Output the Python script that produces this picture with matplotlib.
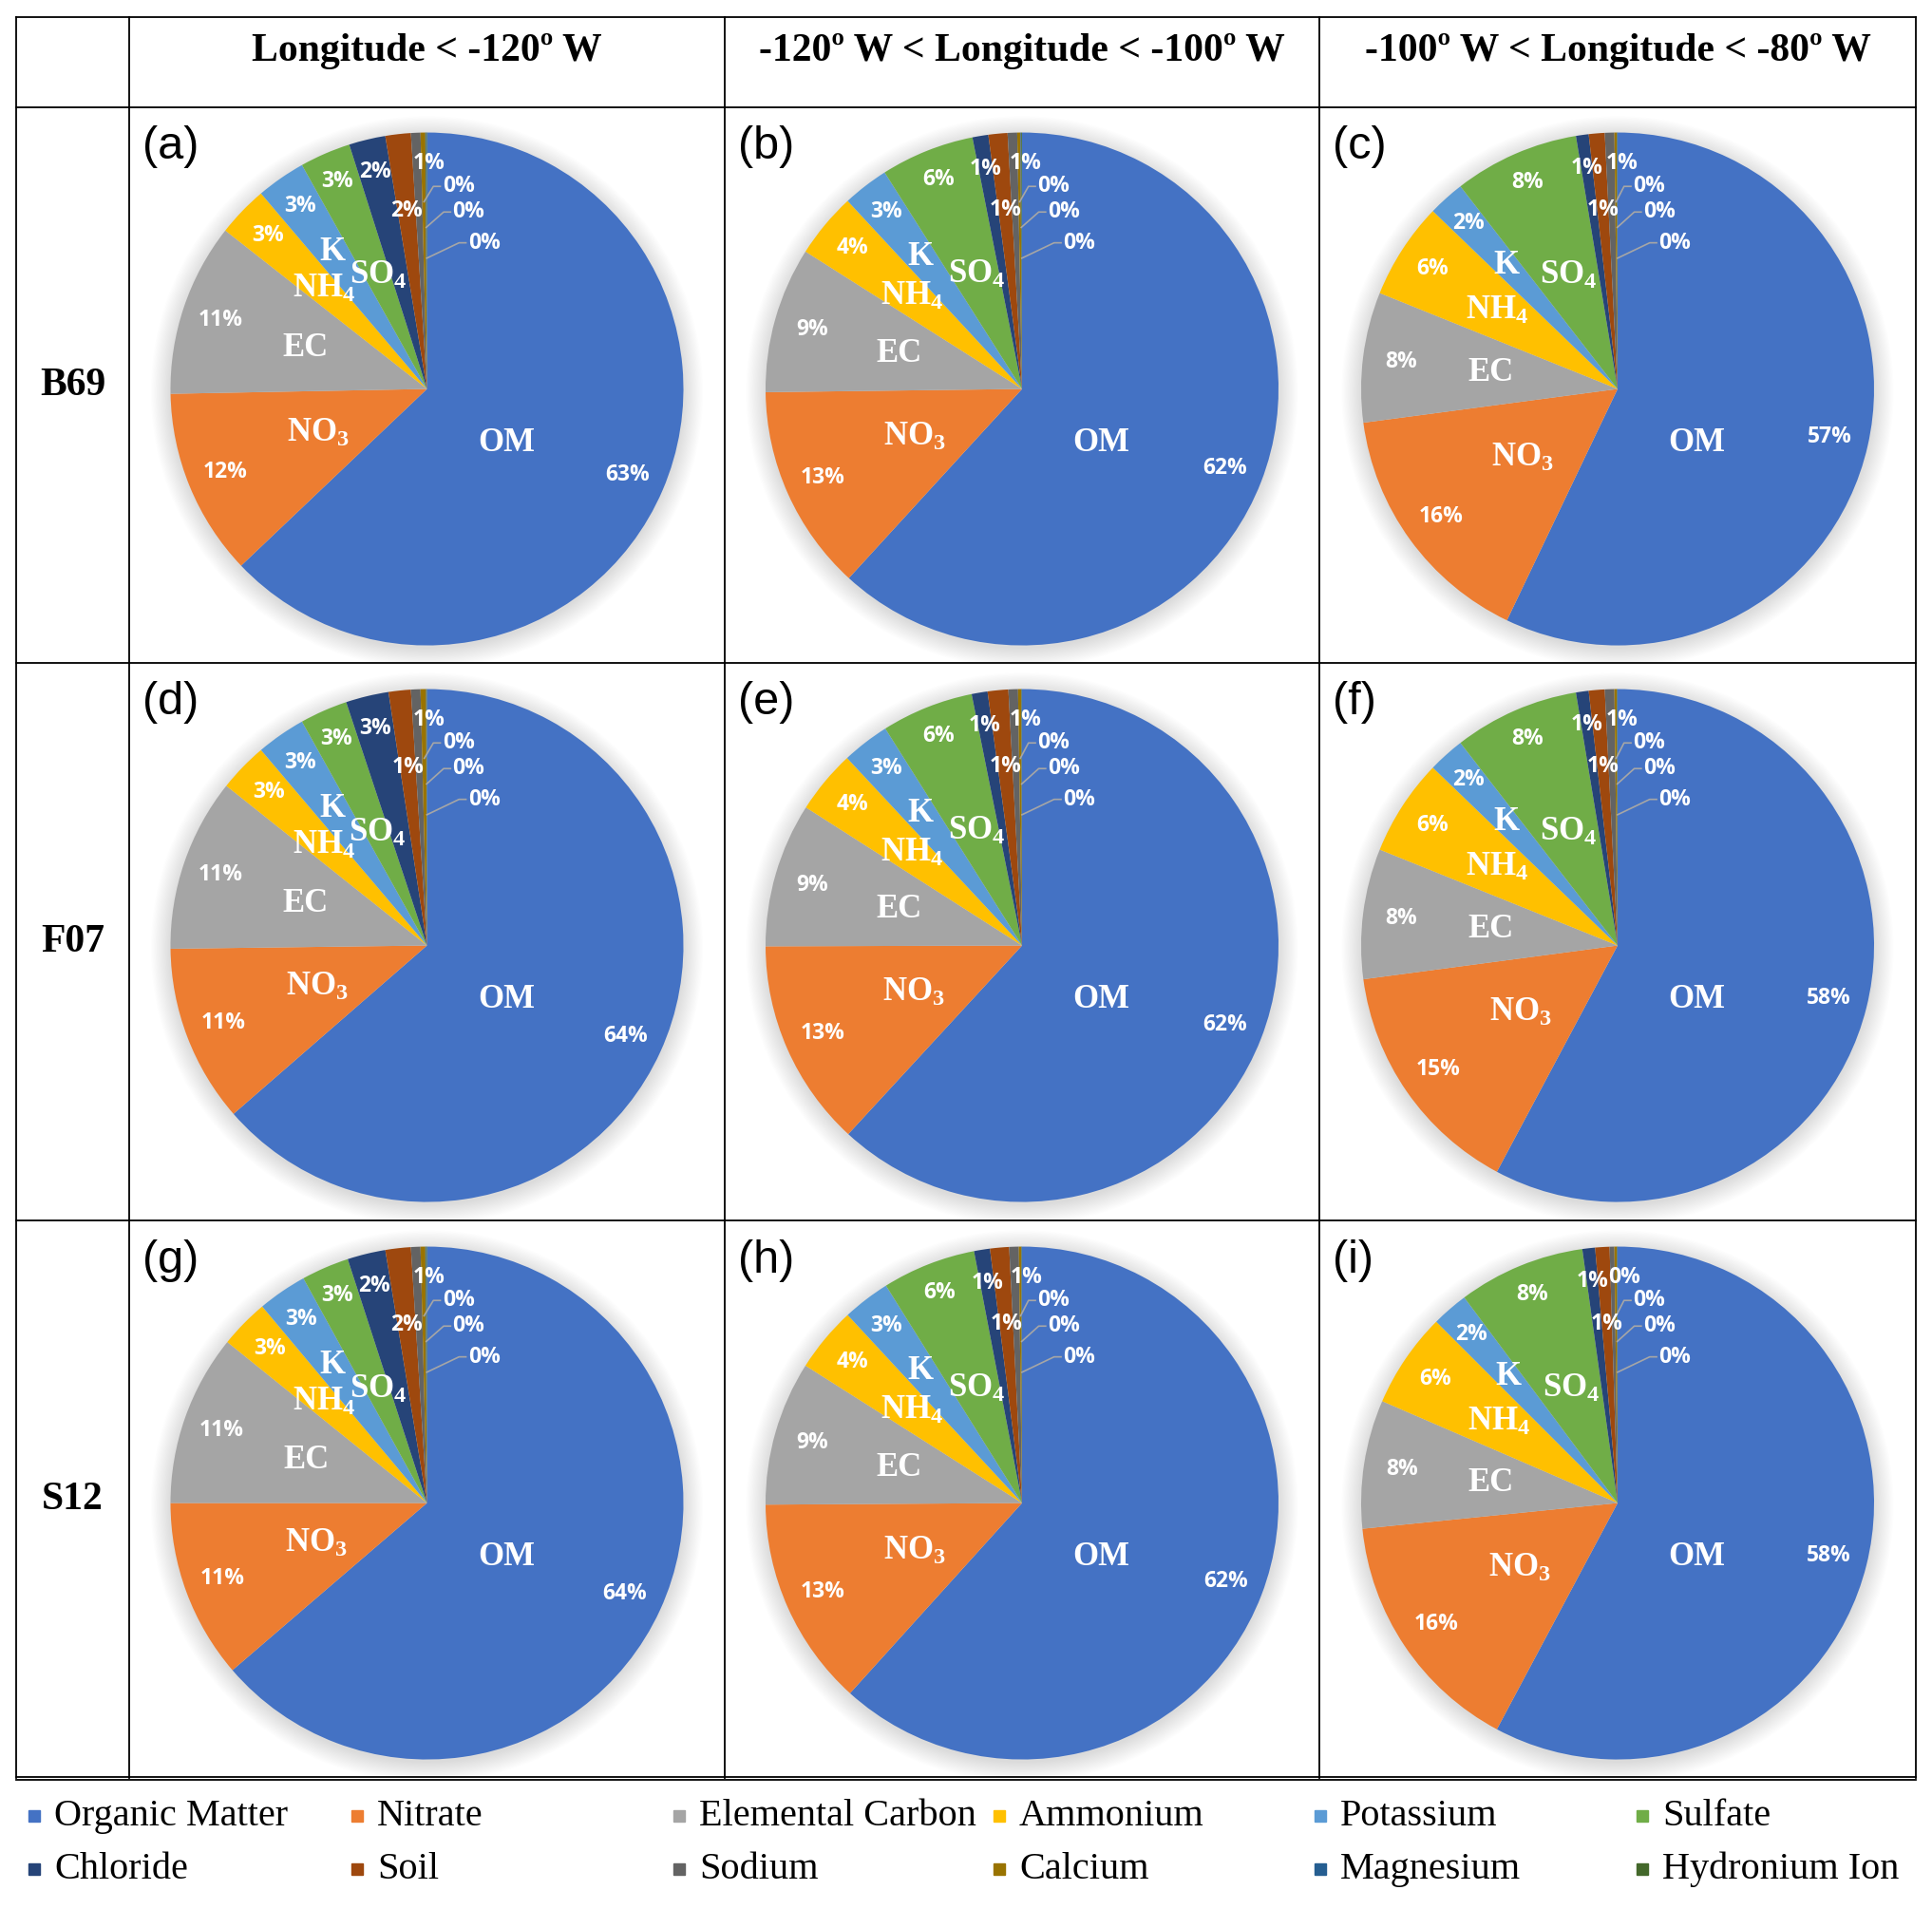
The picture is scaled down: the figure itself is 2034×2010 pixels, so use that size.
import numpy as np
import matplotlib
matplotlib.use("Agg")
import matplotlib.pyplot as plt
from matplotlib.patches import Circle

plt.rcParams['mathtext.fontset'] = 'custom'
plt.rcParams['mathtext.rm'] = 'Liberation Serif:bold'
plt.rcParams['mathtext.bf'] = 'Liberation Serif:bold'

# ---- data -------------------------------------------------------------
components = ["Organic Matter", "Nitrate", "Elemental Carbon", "Ammonium",
              "Potassium", "Sulfate", "Chloride", "Soil", "Sodium",
              "Calcium", "Magnesium", "Hydronium Ion"]
short_names = ["OM", r"$\mathrm{NO_3}$", "EC", r"$\mathrm{NH_4}$", "K", r"$\mathrm{SO_4}$"]
colors = ["#4472C4", "#ED7D31", "#A5A5A5", "#FFC000", "#5B9BD5", "#70AD47",
          "#264478", "#9E480E", "#636363", "#997300", "#255E91", "#43682B"]

col_titles = ["Longitude < -120º W", "-120º W < Longitude < -100º W",
              "-100º W < Longitude < -80º W"]
row_titles = ["B69", "F07", "S12"]
tags = ["(a)", "(b)", "(c)", "(d)", "(e)", "(f)", "(g)", "(h)", "(i)"]

# percent of PM mass, order as in components
b69_west = [62.9, 11.8, 10.9, 3.2, 3.1, 3.2, 2.3, 1.6, 0.6, 0.3, 0.05, 0.05]
b69_mid = [61.8, 13.0, 9.2, 4.1, 2.9, 5.9, 1.0, 1.2, 0.6, 0.2, 0.05, 0.05]
b69_east = [57.1, 15.8, 8.2, 6.1, 2.3, 7.9, 0.8, 1.0, 0.6, 0.15, 0.03, 0.02]
f07_west = [63.6, 11.2, 10.9, 3.1, 3.1, 3.0, 2.7, 1.4, 0.6, 0.35, 0.03, 0.02]
f07_mid = [61.85, 13.1, 9.1, 4.0, 3.0, 5.8, 1.0, 1.3, 0.6, 0.2, 0.03, 0.02]
f07_east = [57.8, 15.1, 8.2, 6.1, 2.3, 7.9, 0.8, 1.0, 0.6, 0.15, 0.03, 0.02]
s12_west = [63.7, 11.3, 10.8, 3.1, 3.1, 3.0, 2.4, 1.6, 0.6, 0.3, 0.05, 0.05]
s12_mid = [61.7, 13.2, 9.1, 4.1, 3.0, 5.9, 1.0, 1.2, 0.6, 0.15, 0.03, 0.02]
s12_east = [57.8, 15.6, 8.1, 6.0, 2.3, 8.0, 0.8, 0.9, 0.3, 0.15, 0.03, 0.02]

panels = [b69_west, b69_mid, b69_east,
          f07_west, f07_mid, f07_east,
          s12_west, s12_mid, s12_east]

# ---- layout (pixels) ----------------------------------------------------
W, H = 2034, 2010
xe = [17, 136, 763, 1389, 2017]
ye = [18, 113, 698, 1285, 1872]
R_PX = 270

fig = plt.figure(figsize=(W / 100, H / 100), dpi=100)
fig.patch.set_facecolor("white")


def polar(ang, r):
    return r * np.cos(np.radians(ang)), r * np.sin(np.radians(ang))


for k, vals in enumerate(panels):
    i, j = divmod(k, 3)
    x0, x1 = xe[j + 1], xe[j + 2]
    y0, y1 = ye[i + 1], ye[i + 2]
    ax = fig.add_axes([x0 / W, 1 - y1 / H, (x1 - x0) / W, (y1 - y0) / H])
    vals = np.array(vals)
    tot = vals.sum()

    # soft shadow around the pie
    for s in range(18):
        ax.add_patch(Circle((0, -0.012), 1.0 + 0.0045 * s, color="black",
                            alpha=0.008, lw=0, zorder=0))
    ax.pie(vals, colors=colors, startangle=90, counterclock=False,
           wedgeprops=dict(linewidth=0))

    cum = np.concatenate([[0], np.cumsum(vals)[:-1]])
    mids = 90 - 360 * (cum + vals / 2) / tot
    pcts = vals / tot * 100

    pct_kw = dict(color="white", fontsize=16.5, fontweight="bold",
                  family="Open Sans", ha="center", va="center")
    # big slices + first small ones on their wedges
    radii = [0.85, 0.85, 0.85, 0.86, 0.87, 0.88, 0.87, 0.70, 0.88]
    for n, r in enumerate(radii):
        px, py = polar(mids[n], r)
        if n == 8:
            px += 0.045
        ax.text(px, py, f"{pcts[n]:.0f}%", **pct_kw)
    # tiny slices: labels to the right with leader lines
    side = [(0.06, 0.79), (0.10, 0.69), (0.16, 0.57)]
    for n, (lx, ly) in zip(range(9, 12), side):
        ax.text(lx, ly, f"{pcts[n]:.0f}%", **{**pct_kw, "ha": "left"})
        ex, ey = polar(mids[n], ly - 0.06)
        ax.plot([lx - 0.008, lx - 0.035, ex], [ly, ly, ey],
                color="#A6A6A6", lw=1.2, zorder=2)

    # component names
    name_kw = dict(color="white", fontsize=25, fontweight="bold",
                   family="Liberation Serif", ha="center", va="center")
    ax.text(0.31, -0.21, short_names[0], **name_kw)
    for n, r in zip(range(1, 6), [0.46, 0.50, 0.56, 0.65, 0.48]):
        px, py = polar(mids[n], r)
        ax.text(px, py, short_names[n], **name_kw)

    hx = (x1 - x0) / 2 / R_PX
    hy = (y1 - y0) / 2 / R_PX
    ax.set_xlim(-hx, hx)
    ax.set_ylim(-hy + 0.015, hy + 0.015)
    ax.set_aspect("equal", adjustable="datalim")
    ax.axis("off")

    ax.text(-hx + 14 / R_PX, hy + 0.015 - 42 / R_PX, tags[k], fontsize=35,
            family="Liberation Sans", ha="left", va="center")

# ---- table grid, titles and legend on a pixel overlay --------------------
ov = fig.add_axes([0, 0, 1, 1], zorder=5)
ov.set_xlim(0, W)
ov.set_ylim(H, 0)
ov.axis("off")
ov.patch.set_alpha(0)

lw = 1.3
for x in xe:
    ov.plot([x, x], [ye[0], ye[-1]], color="black", lw=lw)
for y in ye[:-1]:
    ov.plot([xe[0], xe[-1]], [y, y], color="black", lw=lw)
ov.plot([xe[0], xe[-1]], [ye[-1] - 1.5, ye[-1] - 1.5], color="black", lw=lw)
ov.plot([xe[0], xe[-1]], [ye[-1] + 1.5, ye[-1] + 1.5], color="black", lw=lw)

for j, t in enumerate(col_titles):
    ov.text((xe[j + 1] + xe[j + 2]) / 2, 64, t, fontsize=30, fontweight="bold",
            family="Liberation Serif", ha="center", va="baseline")
for i, t in enumerate(row_titles):
    ov.text((xe[0] + xe[1]) / 2, (ye[i + 1] + ye[i + 2]) / 2, t, fontsize=30,
            fontweight="bold", family="Liberation Serif", ha="center", va="center")

leg_x = [36, 376, 715, 1052, 1390, 1729]
leg_y = [1912, 1968]
for n, name in enumerate(components):
    r, c = divmod(n, 6)
    ov.plot(leg_x[c], leg_y[r], marker="s", markersize=9, color=colors[n], lw=0)
    ov.text(leg_x[c] + 21, leg_y[r], name, fontsize=29, family="Liberation Serif",
            ha="left", va="center")

fig.savefig("out.png", dpi=100, facecolor="white")
